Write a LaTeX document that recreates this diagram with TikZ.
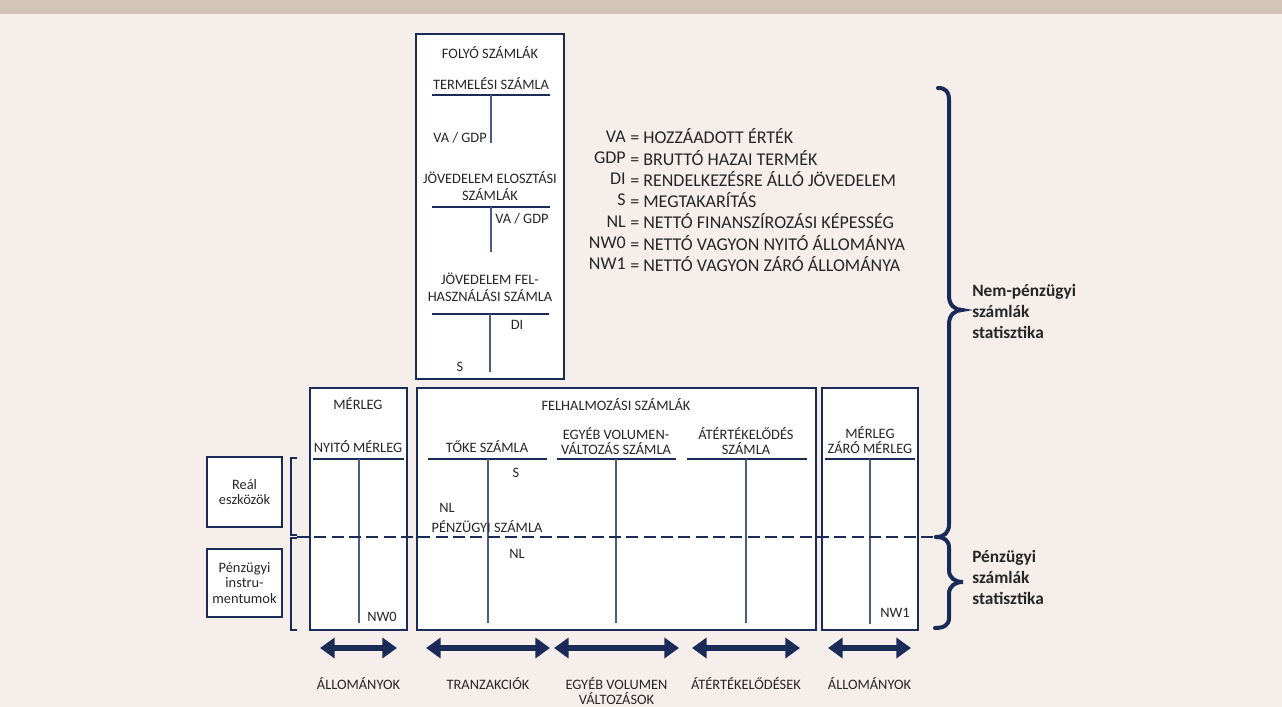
\documentclass[tikz,border=0pt]{standalone}
\usepackage{fontspec}
\setmainfont{Carlito}
\usetikzlibrary{arrows.meta}
\usetikzlibrary{positioning}
\usetikzlibrary{calc}
\definecolor{navy}{HTML}{1B2B57}
\definecolor{steel}{HTML}{4B5C85}
\definecolor{ink}{HTML}{262626}
\definecolor{paper}{HTML}{F6EEEB}
\definecolor{band}{HTML}{D4C4B5}
\begin{document}
\begin{tikzpicture}[x=0.75pt,y=-0.75pt,
  every node/.style={inner sep=0pt,text=ink,font=\fontsize{10.8}{11.6}\selectfont,align=center},
  acct/.style={draw=navy,fill=white,line width=0.9pt},
  rule/.style={navy,line width=0.9pt},
  stem/.style={steel,line width=1pt},
  legend/.style={font=\fontsize{13.5}{15.75}\selectfont},
  side/.style={font=\fontsize{13}{15.75}\selectfont\bfseries,align=left},
  flow/.style={navy,line width=4.5pt,{Triangle[length=11pt,width=15pt]}-{Triangle[length=11pt,width=15pt]}},
  brace/.style={navy,line width=3pt,line cap=round}]
  \useasboundingbox (0,0) rectangle (1282,707);
  \fill[paper] (0,0) rectangle (1282,707);
  \fill[band] (0,0) rectangle (1282,14);

  \draw[acct] (416,34) rectangle (564,379);
  \node (folyo) at (490,53) {FOLYÓ SZÁMLÁK};
  \node (term) at (491,84) {TERMELÉSI SZÁMLA};
  \draw[rule] (432,95) -- (550,95);
  \draw[stem] (491,95) -- (491,143);
  \node[anchor=east] (va1) at (487,138) {VA / GDP};
  \node[font=\fontsize{10.8}{12.75}\selectfont] (elo) at (490,186.5) {JÖVEDELEM ELOSZTÁSI\\SZÁMLÁK};
  \draw[rule] (432,207) -- (550,207);
  \draw[stem] (491,207) -- (491,252);
  \node[anchor=west] (va2) at (495,219) {VA / GDP};
  \node[font=\fontsize{10.8}{12.75}\selectfont] (fel) at (490,287.5) {JÖVEDELEM FEL-\\HASZNÁLÁSI SZÁMLA};
  \draw[rule] (432,314) -- (549,314);
  \draw[stem] (490,314) -- (490,372);
  \node (di) at (517,325) {DI};
  \node (s1) at (460,367) {S};

  \foreach \k/\v [count=\i] in {VA/HOZZÁADOTT ÉRTÉK,GDP/BRUTTÓ HAZAI TERMÉK,DI/RENDELKEZÉSRE ÁLLÓ JÖVEDELEM,S/MEGTAKARÍTÁS,NL/NETTÓ FINANSZÍROZÁSI KÉPESSÉG,NW0/NETTÓ VAGYON NYITÓ ÁLLOMÁNYA,NW1/NETTÓ VAGYON ZÁRÓ ÁLLOMÁNYA}{
    \node[legend,anchor=east] (k\i) at (626,115+21.3*\i) {\k};
    \node[legend,anchor=west] (v\i) at (630,115+21.3*\i) {= \v};
  }

  \node[draw=navy,line width=0.9pt,fill=white,minimum width=56.25pt,minimum height=52.5pt] (real) at (244.5,492) {Reál\\eszközök};
  \node[draw=navy,line width=0.9pt,fill=white,minimum width=56.25pt,minimum height=51pt] (penz) at (244.5,583) {Pénzügyi\\instru-\\mentumok};
  \draw[rule] (297,458) -| (291,535) -- (297,535);
  \draw[rule] (297,538) -| (291,630) -- (297,630);

  \draw[acct] (310,388) rectangle (407,630);
  \node (merl1) at (358,404) {MÉRLEG};
  \node (nyito) at (358,447) {NYITÓ MÉRLEG};
  \draw[rule] (313,459) -- (404,459);
  \draw[stem] (359,459) -- (359,623);
  \node (nw0) at (382,617) {NW0};

  \draw[acct] (417,388) rectangle (816,630);
  \node (felh) at (616,405) {FELHALMOZÁSI SZÁMLÁK};
  \node (toke) at (487,447) {TŐKE SZÁMLA};
  \draw[rule] (428,459) -- (547,459);
  \draw[stem] (488,459) -- (488,623);
  \node (s2) at (516,473) {S};
  \node (nl1) at (447,508) {NL};
  \node (penzsz) at (487,527) {PÉNZÜGYI SZÁMLA};
  \node (nl2) at (517,554) {NL};
  \node (egyeb) at (616,441) {EGYÉB VOLUMEN-\\VÁLTOZÁS SZÁMLA};
  \draw[rule] (557,459) -- (676,459);
  \draw[stem] (616,459) -- (616,623);
  \node (atert) at (746,441) {ÁTÉRTÉKELŐDÉS\\SZÁMLA};
  \draw[rule] (687,459) -- (807,459);
  \draw[stem] (746,459) -- (746,623);

  \draw[acct] (822,388) rectangle (918,630);
  \node (merl2) at (870,440) {MÉRLEG\\ZÁRÓ MÉRLEG};
  \draw[rule] (825,459) -- (915,459);
  \draw[stem] (870,459) -- (870,624);
  \node (nw1) at (895,613) {NW1};

  \draw[navy,line width=0.9pt,dash pattern=on 9pt off 4pt] (297,537) -- (937,537);

  \draw[brace] (938,88) .. controls (946,88) and (949,92) .. (949,100) -- (949,296)
    .. controls (949,305) and (955,310) .. (962,310)
    .. controls (955,310) and (949,315) .. (949,324) -- (949,524)
    .. controls (949,533) and (944,537) .. (936,537);
  \draw[brace] (936,537) .. controls (944,537) and (949,540) .. (949,548) -- (949,570)
    .. controls (949,578) and (955,582) .. (963,582)
    .. controls (955,582) and (949,586) .. (949,594) -- (949,618)
    .. controls (949,625) and (944,628) .. (935,628);
  \node[side,anchor=west] (nempenz) at (972,311) {Nem-pénzügyi\\számlák\\statisztika};
  \node[side,anchor=west] (penzstat) at (972,577) {Pénzügyi\\számlák\\statisztika};

  \foreach \l/\r/\t [count=\i] in {320/397/ÁLLOMÁNYOK,426/550/TRANZAKCIÓK,554/679/{EGYÉB VOLUMEN\\VÁLTOZÁSOK},692/800/ÁTÉRTÉKELŐDÉSEK,828/911/ÁLLOMÁNYOK}{
    \coordinate (fl\i) at (\l,648);
    \coordinate (fr\i) at (\r,648);
    \draw[flow] (fl\i) -- (fr\i);
    \node[anchor=north] (ft\i) at ($(fl\i)!0.5!(fr\i)+(0,29)$) {\t};
  }
\end{tikzpicture}
\end{document}
